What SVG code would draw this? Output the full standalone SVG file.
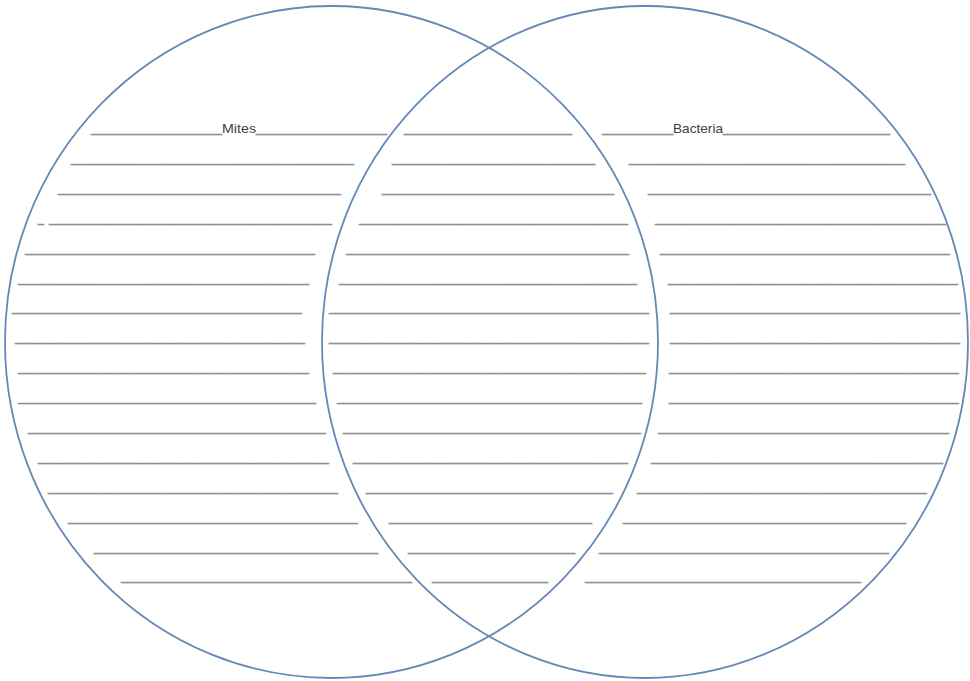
<svg xmlns="http://www.w3.org/2000/svg" width="970" height="681" viewBox="0 0 970 681">
<style>
.ring{fill:none;stroke:#6589b4;stroke-width:1.8}
.u{font-family:"Liberation Sans",Arial,sans-serif;font-size:16px;fill:#8c8c8c;stroke:#9a9a9a;stroke-width:0.45}
.lbl{font-family:"Liberation Sans",Arial,sans-serif;font-size:13px;fill:#404040}
</style>
<rect width="970" height="681" fill="#ffffff"/>
<g id="circles">
<ellipse id="mites-circle" class="ring" cx="331.5" cy="342" rx="326.5" ry="336"/>
<ellipse id="bacteria-circle" class="ring" cx="645" cy="342" rx="323" ry="336"/>
</g>
<g id="mites">
<text class="u" x="91" y="132.3" textLength="131" lengthAdjust="spacingAndGlyphs">__________________</text>
<text class="lbl" x="222" y="133" textLength="34" lengthAdjust="spacingAndGlyphs">Mites</text>
<text class="u" x="256" y="132.3" textLength="131" lengthAdjust="spacingAndGlyphs">__________________</text>
<text class="u" x="71" y="162.3" textLength="283" lengthAdjust="spacingAndGlyphs">______________________________________</text>
<text class="u" x="58" y="192.3" textLength="283" lengthAdjust="spacingAndGlyphs">______________________________________</text>
<text class="u" x="38" y="222.3" textLength="6" lengthAdjust="spacingAndGlyphs">_</text>
<text class="u" x="49" y="222.3" textLength="283" lengthAdjust="spacingAndGlyphs">______________________________________</text>
<text class="u" x="25" y="252.3" textLength="290" lengthAdjust="spacingAndGlyphs">_______________________________________</text>
<text class="u" x="18" y="282.3" textLength="291" lengthAdjust="spacingAndGlyphs">_______________________________________</text>
<text class="u" x="12" y="311.3" textLength="290" lengthAdjust="spacingAndGlyphs">_______________________________________</text>
<text class="u" x="15" y="341.3" textLength="290" lengthAdjust="spacingAndGlyphs">_______________________________________</text>
<text class="u" x="18" y="371.3" textLength="291" lengthAdjust="spacingAndGlyphs">_______________________________________</text>
<text class="u" x="18" y="401.3" textLength="298" lengthAdjust="spacingAndGlyphs">________________________________________</text>
<text class="u" x="28" y="431.3" textLength="298" lengthAdjust="spacingAndGlyphs">________________________________________</text>
<text class="u" x="38" y="461.3" textLength="291" lengthAdjust="spacingAndGlyphs">_______________________________________</text>
<text class="u" x="48" y="491.3" textLength="290" lengthAdjust="spacingAndGlyphs">_______________________________________</text>
<text class="u" x="68" y="521.3" textLength="290" lengthAdjust="spacingAndGlyphs">_______________________________________</text>
<text class="u" x="94" y="551.3" textLength="284" lengthAdjust="spacingAndGlyphs">______________________________________</text>
<text class="u" x="121" y="580.3" textLength="291" lengthAdjust="spacingAndGlyphs">_______________________________________</text>
</g>
<g id="overlap">
<text class="u" x="404" y="132.3" textLength="168" lengthAdjust="spacingAndGlyphs">_______________________</text>
<text class="u" x="392" y="162.3" textLength="203" lengthAdjust="spacingAndGlyphs">___________________________</text>
<text class="u" x="382" y="192.3" textLength="232" lengthAdjust="spacingAndGlyphs">_______________________________</text>
<text class="u" x="359" y="222.3" textLength="269" lengthAdjust="spacingAndGlyphs">____________________________________</text>
<text class="u" x="346" y="252.3" textLength="283" lengthAdjust="spacingAndGlyphs">______________________________________</text>
<text class="u" x="339" y="282.3" textLength="298" lengthAdjust="spacingAndGlyphs">________________________________________</text>
<text class="u" x="329" y="311.3" textLength="320" lengthAdjust="spacingAndGlyphs">___________________________________________</text>
<text class="u" x="329" y="341.3" textLength="320" lengthAdjust="spacingAndGlyphs">___________________________________________</text>
<text class="u" x="333" y="371.3" textLength="313" lengthAdjust="spacingAndGlyphs">__________________________________________</text>
<text class="u" x="337" y="401.3" textLength="305" lengthAdjust="spacingAndGlyphs">_________________________________________</text>
<text class="u" x="343" y="431.3" textLength="298" lengthAdjust="spacingAndGlyphs">________________________________________</text>
<text class="u" x="353" y="461.3" textLength="275" lengthAdjust="spacingAndGlyphs">_____________________________________</text>
<text class="u" x="366" y="491.3" textLength="247" lengthAdjust="spacingAndGlyphs">_________________________________</text>
<text class="u" x="389" y="521.3" textLength="203" lengthAdjust="spacingAndGlyphs">___________________________</text>
<text class="u" x="408" y="551.3" textLength="167" lengthAdjust="spacingAndGlyphs">_______________________</text>
<text class="u" x="432" y="580.3" textLength="116" lengthAdjust="spacingAndGlyphs">________________</text>
</g>
<g id="bacteria">
<text class="u" x="602" y="132.3" textLength="71" lengthAdjust="spacingAndGlyphs">__________</text>
<text class="lbl" x="673" y="133" textLength="50" lengthAdjust="spacingAndGlyphs">Bacteria</text>
<text class="u" x="723" y="132.3" textLength="167" lengthAdjust="spacingAndGlyphs">_______________________</text>
<text class="u" x="629" y="162.3" textLength="276" lengthAdjust="spacingAndGlyphs">_____________________________________</text>
<text class="u" x="648" y="192.3" textLength="283" lengthAdjust="spacingAndGlyphs">______________________________________</text>
<text class="u" x="655" y="222.3" textLength="291" lengthAdjust="spacingAndGlyphs">_______________________________________</text>
<text class="u" x="660" y="252.3" textLength="290" lengthAdjust="spacingAndGlyphs">_______________________________________</text>
<text class="u" x="668" y="282.3" textLength="290" lengthAdjust="spacingAndGlyphs">_______________________________________</text>
<text class="u" x="670" y="311.3" textLength="290" lengthAdjust="spacingAndGlyphs">_______________________________________</text>
<text class="u" x="670" y="341.3" textLength="290" lengthAdjust="spacingAndGlyphs">_______________________________________</text>
<text class="u" x="669" y="371.3" textLength="290" lengthAdjust="spacingAndGlyphs">_______________________________________</text>
<text class="u" x="669" y="401.3" textLength="290" lengthAdjust="spacingAndGlyphs">_______________________________________</text>
<text class="u" x="658" y="431.3" textLength="291" lengthAdjust="spacingAndGlyphs">_______________________________________</text>
<text class="u" x="651" y="461.3" textLength="292" lengthAdjust="spacingAndGlyphs">_______________________________________</text>
<text class="u" x="637" y="491.3" textLength="290" lengthAdjust="spacingAndGlyphs">_______________________________________</text>
<text class="u" x="623" y="521.3" textLength="283" lengthAdjust="spacingAndGlyphs">______________________________________</text>
<text class="u" x="599" y="551.3" textLength="290" lengthAdjust="spacingAndGlyphs">_______________________________________</text>
<text class="u" x="585" y="580.3" textLength="276" lengthAdjust="spacingAndGlyphs">_____________________________________</text>
</g>
</svg>
